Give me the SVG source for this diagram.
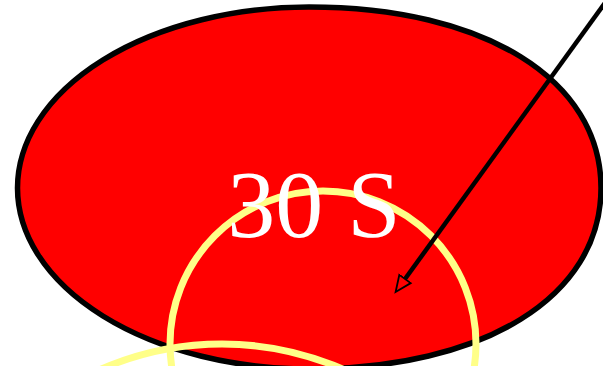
<svg xmlns="http://www.w3.org/2000/svg" width="603" height="366" viewBox="0 0 603 366">
  <style>
    .ring { fill: none; stroke: #ffff88; stroke-width: 7; }
    .label { font-family: "Liberation Serif", "Times New Roman", serif; font-size: 96px; fill: #ffffff; text-anchor: middle; }
  </style>
  <defs>
    <marker id="openHead" markerUnits="userSpaceOnUse" markerWidth="20" markerHeight="18" refX="1" refY="9" orient="auto" viewBox="0 0 20 18">
      <path d="M1,2 L17,9 L1,16 Z" fill="none" stroke="#000" stroke-width="1.8"/>
    </marker>
  </defs>
  <g id="node-ellipse">
    <path d="M17.5,188 A291.5,181 0 0 1 309,7 C484.2,7 601,79.4 601,188 C601,296.6 484.2,369 309,369 A291.5,181 0 0 1 17.5,188 Z" fill="#ff0000" stroke="#000" stroke-width="5.5"/>
  </g>
  <g id="node-ring2">
    <circle class="ring" cx="222" cy="647" r="303"/>
  </g>
  <g id="node-ring1">
    <circle class="ring" cx="323" cy="344" r="153"/>
  </g>
  <g id="node-label">
    <text class="label" x="314" y="237">30 S</text>
  </g>
  <g id="connectors">
    <line x1="615" y1="-11" x2="405" y2="279" stroke="#000" stroke-width="4.5" marker-end="url(#openHead)"/>
  </g>
</svg>
